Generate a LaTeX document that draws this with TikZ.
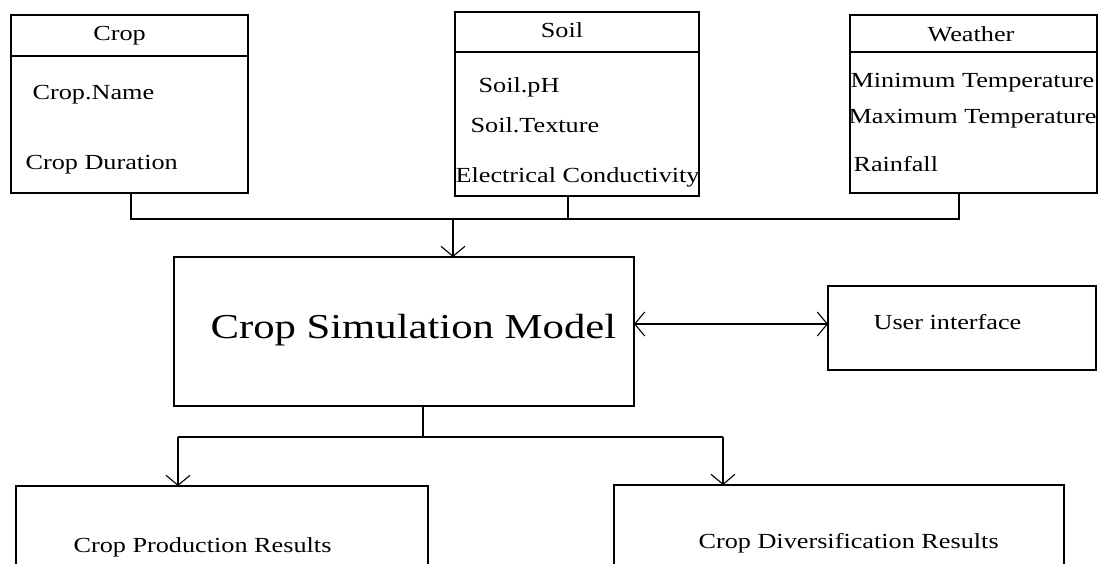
\documentclass[tikz,border=0pt]{standalone}
\usepackage{fontspec}
\setmainfont{Liberation Serif}[FakeStretch=1.22]
\usetikzlibrary{arrows.meta}

\begin{document}
\begin{tikzpicture}[x=1pt,y=-1pt,line width=1.1pt,
  box/.style={draw,rectangle,inner sep=0pt,outer sep=0pt},
  txt/.style={inner sep=0pt,anchor=base west,font=\fontsize{21.5}{26}\selectfont},
  ttl/.style={txt,anchor=base},
  tip/.tip={Straight Barb[length=10pt,width=24pt]},
  arr/.style={-tip}]
\useasboundingbox (0,0) rectangle (1099,563);
\clip (0,0) rectangle (1099,563);
\fill[white] (0,0) rectangle (1099,563);

\node[box,minimum width=237pt,minimum height=178pt] (crop) at (129.5,104) {};
\node[box,minimum width=244pt,minimum height=184pt] (soil) at (577,104) {};
\node[box,minimum width=247pt,minimum height=178pt] (weather) at (973.5,104) {};
\draw ([yshift=-41pt]crop.north west) -- ([yshift=-41pt]crop.north east);
\draw ([yshift=-40pt]soil.north west) -- ([yshift=-40pt]soil.north east);
\draw ([yshift=-37pt]weather.north west) -- ([yshift=-37pt]weather.north east);

\node[ttl] (crop-ttl) at (119.5,40) {Crop};
\node[txt] (crop-name) at (32,99) {Crop.Name};
\node[txt] (crop-dur) at (25,169) {Crop Duration};
\node[ttl] (soil-ttl) at (562,37) {Soil};
\node[txt] (soil-ph) at (478,92) {Soil.pH};
\node[txt] (soil-tex) at (470,132) {Soil.Texture};
\node[txt] (soil-ec) at (455,182) {Electrical Conductivity};
\node[ttl] (weather-ttl) at (971,41) {Weather};
\node[txt] (w-min) at (850,87) {Minimum Temperature};
\node[txt] (w-max) at (848,123) {Maximum Temperature};
\node[txt] (w-rain) at (853,171) {Rainfall};

\node[box,minimum width=460pt,minimum height=149pt] (model) at (404,331.5) {};
\node[txt,font=\fontsize{35}{42}\selectfont] (model-txt) at (210,338) {Crop Simulation Model};
\node[box,minimum width=268pt,minimum height=84pt] (ui) at (962,328) {};
\node[txt] (ui-txt) at (873,329) {User interface};

\node[box,minimum width=412pt,minimum height=114pt] (prod) at (222,543) {};
\node[txt] (prod-txt) at (73,552) {Crop Production Results};
\node[box,minimum width=450pt,minimum height=115pt] (div) at (839,542.5) {};
\node[txt] (div-txt) at (698,548) {Crop Diversification Results};

\coordinate (inL) at (131,219);
\coordinate (inR) at (959,219);
\draw (crop.south -| inL) -- (inL) -- (inR) -- (inR |- weather.south);
\draw ([xshift=-9pt]soil.south) -- ([xshift=-9pt]soil.south |- inL);
\draw[arr] ([xshift=49pt]model.north |- inL) -- ([xshift=49pt]model.north);

\draw[tip-tip] ([yshift=7.5pt]model.east) -- ([yshift=7.5pt]model.east -| ui.west);

\coordinate (outL) at (178,437);
\coordinate (outR) at (723,437);
\draw ([xshift=19pt]model.south) -- ([xshift=19pt]model.south |- outL);
\draw (outL) -- (outR);
\draw[arr] (outL) -- (outL |- prod.north);
\draw[arr] (outR) -- (outR |- div.north);
\end{tikzpicture}
\end{document}
